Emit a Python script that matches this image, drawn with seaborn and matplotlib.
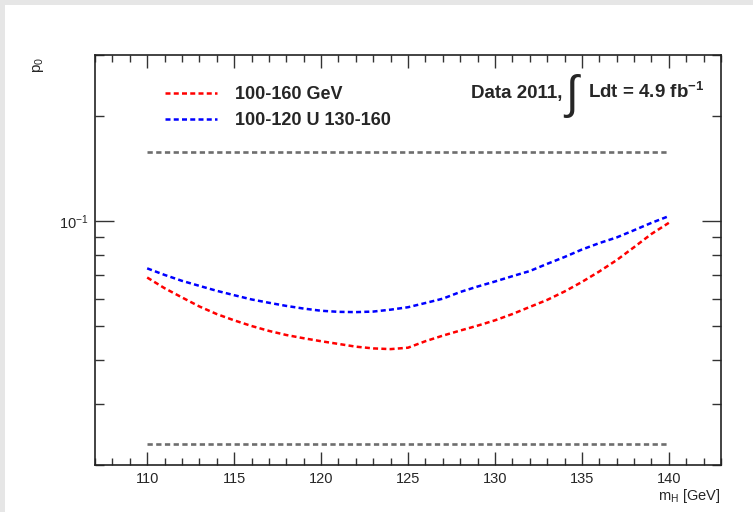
import numpy as np
import pandas as pd
import seaborn as sns
import matplotlib.pyplot as plt
from matplotlib.ticker import MultipleLocator, FixedLocator, NullFormatter
from matplotlib.patches import Rectangle
from matplotlib.lines import Line2D

# values
mass = list(range(110, 141))
p0_full = [0.0690, 0.0643, 0.0605, 0.0570, 0.0542, 0.0520, 0.0501, 0.0485,
           0.0472, 0.0462, 0.0453, 0.0445, 0.0437, 0.0432, 0.0430, 0.0434,
           0.0453, 0.0470, 0.0486, 0.0502, 0.0520, 0.0542, 0.0568, 0.0595,
           0.0629, 0.0670, 0.0718, 0.0774, 0.0843, 0.0920, 0.0990]
p0_split = [0.0733, 0.0702, 0.0675, 0.0653, 0.0632, 0.0614, 0.0597, 0.0584,
            0.0572, 0.0562, 0.0554, 0.0550, 0.0549, 0.0551, 0.0558, 0.0567,
            0.0583, 0.0600, 0.0627, 0.0650, 0.0672, 0.0696, 0.0720, 0.0755,
            0.0790, 0.0830, 0.0866, 0.0899, 0.0943, 0.0990, 0.1035]
labels = ["100-160 GeV", "100-120 U 130-160"]
colors = ["red", "blue"]
ref_x = [110, 140]
ref_levels = [0.158, 0.023]

df = pd.DataFrame({
    "mH": mass * 2,
    "p0": p0_full + p0_split,
    "range": [labels[0]] * len(mass) + [labels[1]] * len(mass),
})

sns.set_style("ticks")
plt.rcParams["font.family"] = ["Liberation Sans", "DejaVu Sans"]
plt.rcParams["mathtext.fontset"] = "custom"
plt.rcParams["mathtext.rm"] = "Liberation Sans"
plt.rcParams["mathtext.it"] = "Liberation Sans:italic"
plt.rcParams["mathtext.bf"] = "Liberation Sans:bold"
plt.rcParams["axes.unicode_minus"] = False

fig = plt.figure(figsize=(7.53, 5.12), dpi=100)
fig.patch.set_facecolor("white")
ax = fig.add_axes([95 / 753, 47 / 512, 626 / 753, 410 / 512])

# grey page border (top and left)
fig.add_artist(Rectangle((0, 1 - 5 / 512), 1, 5 / 512, transform=fig.transFigure,
                         color="#e6e6e6", lw=0, zorder=0))
fig.add_artist(Rectangle((0, 0), 5 / 753, 1, transform=fig.transFigure,
                         color="#e6e6e6", lw=0, zorder=0))

dash = (0, (2.0, 1.3))
for lvl in ref_levels:
    ax.plot(ref_x, [lvl, lvl], color="#6e6e6e", lw=1.9, ls=dash)

for lab, col in zip(labels, colors):
    sns.lineplot(data=df[df["range"] == lab], x="mH", y="p0", ax=ax,
                 color=col, lw=1.8, ls=dash, legend=False)

ax.set_yscale("log")
ax.set_xlim(107, 143)
ax.set_ylim(0.02, 0.3)

ax.xaxis.set_major_locator(MultipleLocator(5))
ax.xaxis.set_minor_locator(MultipleLocator(1))
ax.yaxis.set_major_locator(FixedLocator([0.1]))
ax.yaxis.set_minor_locator(FixedLocator([0.02, 0.03, 0.04, 0.05, 0.06, 0.07,
                                         0.08, 0.09, 0.2, 0.3]))
ax.set_yticklabels([r"10$^{\mathregular{-1}}$"])
ax.yaxis.set_minor_formatter(NullFormatter())

ax.tick_params(which="both", direction="in", top=True, right=True,
               color="#333333", width=1.0, labelsize=10.5, pad=5)
ax.tick_params(axis="x", which="major", length=9.5)
ax.tick_params(axis="x", which="minor", length=5)
ax.tick_params(axis="y", which="major", length=13.5)
ax.tick_params(axis="y", which="minor", length=6.5)
for s in ax.spines.values():
    s.set_linewidth(1.2)
    s.set_color("#222222")

ax.set_xlabel(r"m$_{\mathregular{H}}$ [GeV]", loc="right", fontsize=10.5,
              labelpad=1)
ax.set_ylabel(r"p$_{\mathregular{0}}$", loc="top", fontsize=11)
ax.yaxis.set_label_coords(-0.078, 0.995)

handles = [Line2D([], [], color=c, lw=1.8, ls=dash) for c in colors]
ax.legend(handles, labels, loc="upper left",
          bbox_to_anchor=(165 / 753, 1 - 86 / 512),
          bbox_transform=fig.transFigure, frameon=False,
          prop={"weight": "bold", "size": 13}, handlelength=2.9,
          handletextpad=0.95, labelspacing=0.5, borderpad=0,
          borderaxespad=0)

# luminosity label
fig.text(471 / 753, 1 - 98 / 512, "Data 2011,", fontsize=13.5,
         fontweight="bold", ha="left", va="baseline")
fig.text(572 / 753, 1 - 96.5 / 512, "\u222b", fontsize=33,
         ha="center", va="center")
fig.text(588 / 753, 1 - 98 / 512, r"Ldt = 4.9 fb$^{\mathbf{-1}}$",
         fontsize=13.5, fontweight="bold", ha="left", va="baseline")

fig.savefig("out.png", dpi=100)
